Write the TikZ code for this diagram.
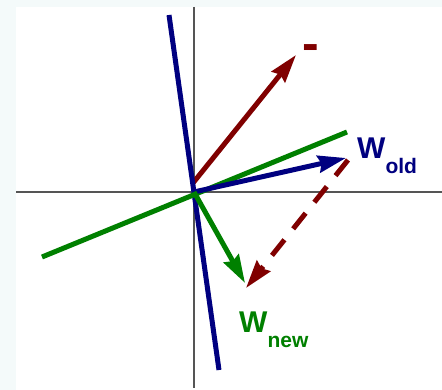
\documentclass[tikz,border=0pt]{standalone}
\usepackage{fontspec}
\setmainfont{Liberation Sans}
\usetikzlibrary{arrows.meta}
\definecolor{wred}{HTML}{800000}
\definecolor{wblue}{HTML}{000080}
\definecolor{wgreen}{HTML}{008000}
\definecolor{axisgray}{HTML}{555555}
\definecolor{pale}{HTML}{F4FAFA}

\begin{document}
\begin{tikzpicture}[x=1pt,y=-1pt,
  axis/.style={draw=axisgray,line width=1.5pt},
  hyper/.style={line width=5pt},
  vec/.style={line width=5pt,-{Stealth[length=28pt,width=17pt,inset=3pt]}},
  wlabel/.style={inner sep=0pt,font=\bfseries\fontsize{30}{30}\selectfont}]
  % page and frame
  \fill[pale] (0,0) rectangle (442,390);
  \fill[white] (16,7) rectangle (442,390);
  \useasboundingbox (0,0) rectangle (442,390);
  % axes
  \coordinate (O) at (194,192);
  \coordinate (xl) at (16,192);
  \coordinate (xr) at (442,192);
  \coordinate (yt) at (194,7);
  \coordinate (yb) at (194,388);
  \draw[axis] (xl) -- (xr);
  \draw[axis] (yt) -- (yb);
  % end points
  \coordinate (rs) at (193,183);
  \coordinate (rt) at (296,55);
  \coordinate (bt) at (346,158);
  \coordinate (gt) at (245,283);
  \coordinate (ds) at (348,160);
  \coordinate (dt) at (246,288);
  \coordinate (b1) at (169,15);
  \coordinate (b2) at (219,370);
  \coordinate (g1) at (42,257);
  \coordinate (g2) at (347,132);
  % vectors and boundaries
  \draw[vec,wred] (rs) -- (rt);
  \draw[hyper,wblue] (b1) -- (b2);
  \draw[hyper,wgreen] (g1) -- (g2);
  \draw[vec,wblue] (O) -- (bt);
  \draw[vec,wgreen] (O) -- (gt);
  \draw[vec,wred,dash pattern=on 20pt off 14pt] (ds) -- (dt);
  % labels
  \node[inner sep=0pt,text=wred,font=\bfseries\fontsize{50}{50}\selectfont] (minus) at (311,53) {-};
  \node[wlabel,text=wblue,anchor=north west] (wold) at (357,138)
    {W\raisebox{-15pt}{\fontsize{21}{21}\selectfont old}};
  \node[wlabel,text=wgreen,anchor=north west] (wnew) at (239,312)
    {W\raisebox{-15pt}{\fontsize{21}{21}\selectfont new}};
\end{tikzpicture}
\end{document}
